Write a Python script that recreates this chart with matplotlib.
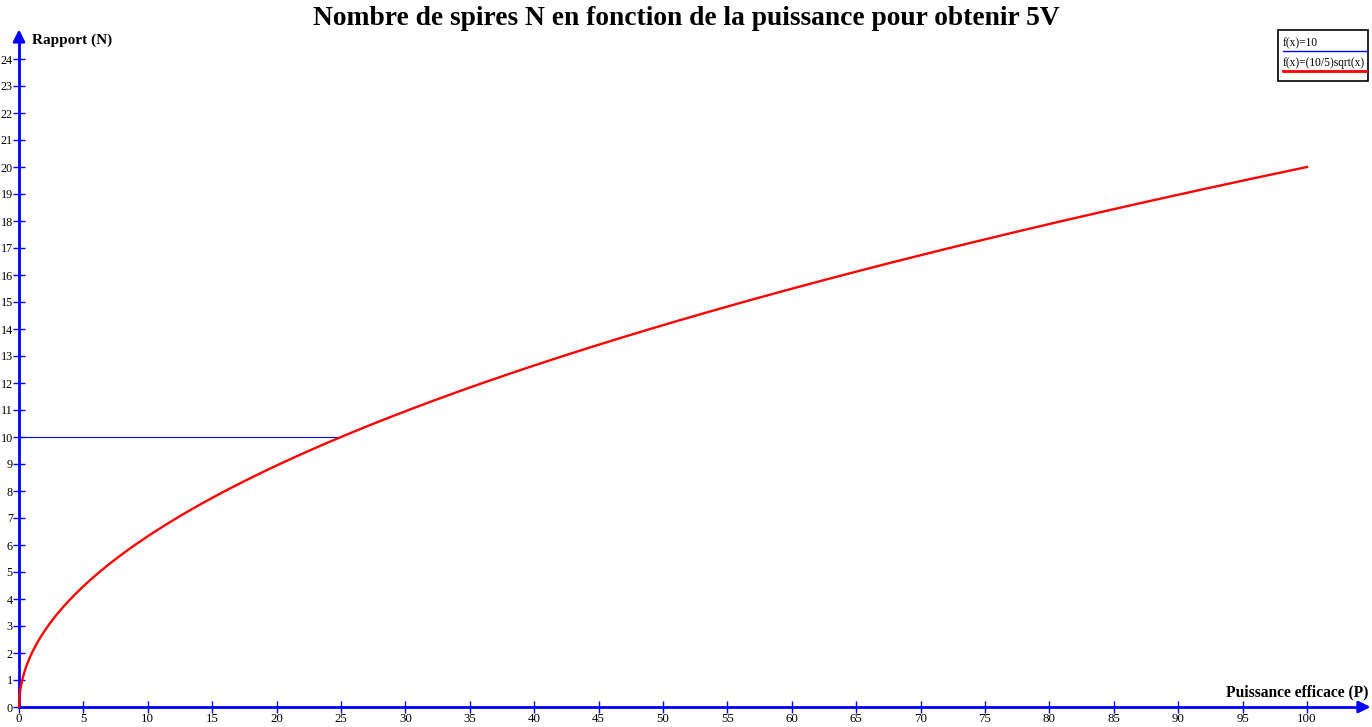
import numpy as np
import matplotlib
matplotlib.use("Agg")
import matplotlib.pyplot as plt
from matplotlib.patches import Rectangle
from matplotlib.lines import Line2D

# Data
p_max = 100
ratio_coef = 10 / 5
target_level = 10
p_values = np.linspace(0, p_max, 2001)
n_values = ratio_coef * np.sqrt(p_values)
x_ticks = list(range(0, 101, 5))
y_ticks = list(range(0, 25))

W, H, DPI = 1372, 727, 100
fig = plt.figure(figsize=(W / DPI, H / DPI), dpi=DPI)
ax = fig.add_axes([0, 0, 1, 1])

# pixel mapping: origin at (19, 707), 12.88 px per x unit, 27 px per y unit
ox, oy, sx, sy = 19, 707, 12.88, 27.0
ax.set_xlim(-ox / sx, (W - ox) / sx)
ax.set_ylim(-(H - oy) / sy, oy / sy)

serif = ["Liberation Serif", "DejaVu Serif"]
blue = "#0000FF"
red = "#FF0000"

# curves
ax.plot([0, 25], [target_level, target_level], color=blue, lw=0.8, zorder=2)
ax.plot(p_values, n_values, color=red, lw=1.7, zorder=3)

# axes through origin
for side in ("top", "right"):
    ax.spines[side].set_visible(False)
ax.spines["left"].set_position(("data", 0))
ax.spines["bottom"].set_position(("data", 0))
x_end, y_end = 104.4, 24.75
ax.spines["bottom"].set_bounds(0, x_end)
ax.spines["left"].set_bounds(0, y_end)
for side in ("left", "bottom"):
    ax.spines[side].set_color(blue)
    ax.spines[side].set_linewidth(2.0)

ax.annotate("", xy=(x_end + 0.75, 0), xytext=(x_end - 0.2, 0),
            arrowprops=dict(arrowstyle="-|>,head_length=0.7,head_width=0.35",
                            color=blue, lw=2.0), annotation_clip=False)
ax.annotate("", xy=(0, y_end + 0.45), xytext=(0, y_end - 0.1),
            arrowprops=dict(arrowstyle="-|>,head_length=0.7,head_width=0.35",
                            color=blue, lw=2.0), annotation_clip=False)

ax.set_xticks(x_ticks)
ax.set_yticks(y_ticks)
ax.set_xticklabels([str(v) for v in x_ticks], fontfamily=serif, fontsize=9.3)
ax.set_yticklabels([str(v) for v in y_ticks], fontfamily=serif, fontsize=8.7)
ax.tick_params(axis="both", direction="inout", length=8, width=1.0,
               color=blue, labelcolor="black", pad=0.5)

# axis titles
ax.text(32 / W, 1 - 40 / H, "Rapport (N)", transform=fig.transFigure,
        fontfamily=serif, fontweight="bold", fontsize=11, ha="left", va="center")
ax.text(1368 / W, 1 - 692 / H, "Puissance efficace (P)", transform=fig.transFigure,
        fontfamily=serif, fontweight="bold", fontsize=11.2, ha="right", va="center")

# title
fig.text(686 / W, 1 - 25 / H, "Nombre de spires N en fonction de la puissance pour obtenir 5V",
         fontfamily=serif, fontweight="bold", fontsize=19.8, ha="center", va="baseline")

# legend box
def fx(px):
    return px / W

def fy(py):
    return 1 - py / H

fig.add_artist(Rectangle((fx(1278), fy(81)), (1368 - 1278) / W, (81 - 30) / H,
                         transform=fig.transFigure, facecolor="white",
                         edgecolor="black", lw=1.2))
fig.text(fx(1283), fy(43), "f(x)=10", fontfamily=serif, fontsize=8.3,
         ha="left", va="center")
fig.add_artist(Line2D([fx(1283), fx(1366)], [fy(51), fy(51)],
                      transform=fig.transFigure, color=blue, lw=1.0))
fig.text(fx(1283), fy(63), "f(x)=(10/5)sqrt(x)", fontfamily=serif, fontsize=8.3,
         ha="left", va="center")
fig.add_artist(Line2D([fx(1283), fx(1366)], [fy(71), fy(71)],
                      transform=fig.transFigure, color=red, lw=2.0))

fig.savefig("out.png", dpi=DPI, facecolor="white")
